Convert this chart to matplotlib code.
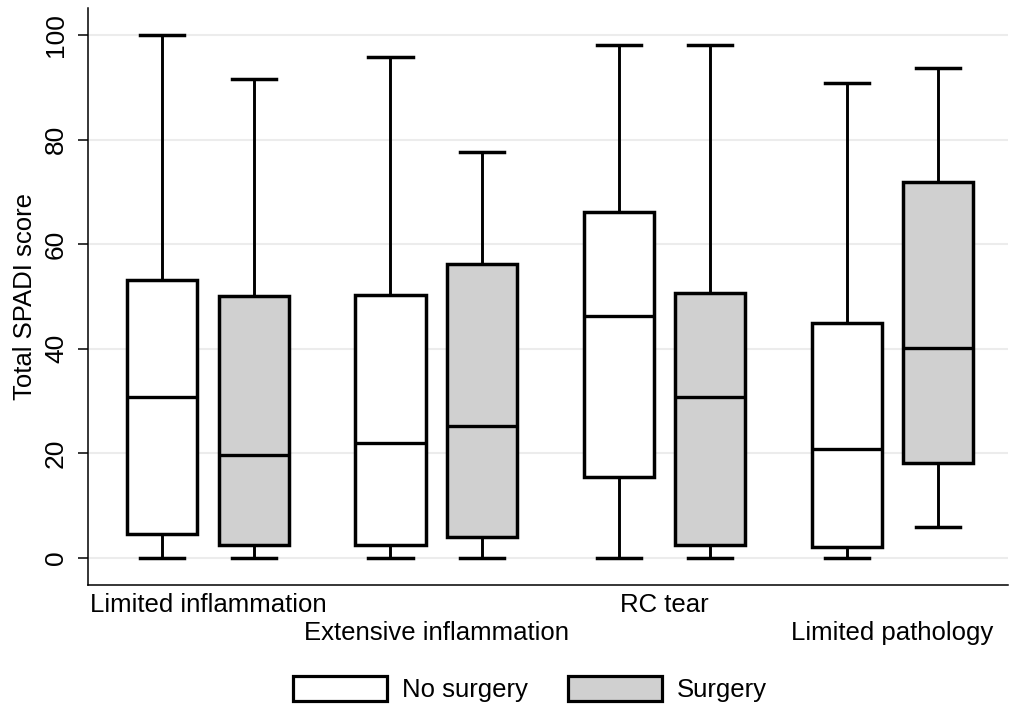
import numpy as np
import matplotlib
matplotlib.use("Agg")
import matplotlib.pyplot as plt
from matplotlib.patches import Patch

plt.rcParams['font.family'] = ['Liberation Sans', 'DejaVu Sans']

# Datos
grupos = ["Limited inflammation", "Extensive inflammation", "RC tear", "Limited pathology"]
series = ["No surgery", "Surgery"]

# [no surgery, surgery] por grupo
whislo = [[0, 0], [0, 0], [0, 0], [0, 5.8]]
q1 = [[4.5, 2.5], [2.5, 4.0], [15.5, 2.4], [2.0, 18.2]]
med = [[30.8, 19.6], [21.9, 25.2], [46.3, 30.8], [20.8, 40.1]]
q3 = [[53.2, 50.1], [50.3, 56.3], [66.2, 50.6], [45.0, 72.0]]
whishi = [[100, 91.7], [95.8, 77.6], [98.1, 98.1], [90.8, 93.7]]

colores = ["white", "#d0d0d0"]

fig = plt.figure(figsize=(10.12, 7.07), dpi=100)
ax = fig.add_axes([0.087, 0.1726, 0.909, 0.8161])

offset = 0.2
ancho = 0.307
for j in range(2):
    stats = []
    for i in range(len(grupos)):
        stats.append(dict(whislo=whislo[i][j], q1=q1[i][j], med=med[i][j],
                          q3=q3[i][j], whishi=whishi[i][j], fliers=[]))
    pos = np.arange(len(grupos)) + (offset if j == 1 else -offset)
    ax.bxp(stats, positions=pos, widths=ancho, capwidths=0.193,
           patch_artist=True, showfliers=False, manage_ticks=False,
           boxprops=dict(facecolor=colores[j], edgecolor="black", linewidth=2.5),
           medianprops=dict(color="black", linewidth=2.4),
           whiskerprops=dict(color="black", linewidth=2.1),
           capprops=dict(color="black", linewidth=2.5))

ax.set_xlim(-0.526, 3.507)
ax.set_ylim(-5.2, 105.2)
ax.set_yticks([0, 20, 40, 60, 80, 100])
ax.tick_params(axis='y', labelsize=19, length=7.5, width=1.1, labelrotation=90, pad=7)
for lab in ax.get_yticklabels():
    lab.set_va("center")
ax.set_ylabel("Total SPADI score", fontsize=18.5, labelpad=5)

# etiquetas alternadas en dos filas
etiquetas = [g if i % 2 == 0 else "\n" + g for i, g in enumerate(grupos)]
ax.set_xticks(np.arange(len(grupos)))
ax.set_xticklabels(etiquetas, fontsize=18.5)
ax.tick_params(axis='x', length=0, pad=6)

ax.grid(axis='y', color="#ececec", linewidth=1.5)
ax.set_axisbelow(True)
ax.spines['top'].set_visible(False)
ax.spines['right'].set_visible(False)
ax.spines['left'].set_linewidth(1.1)
ax.spines['bottom'].set_linewidth(1.1)

handles = [Patch(facecolor=colores[k], edgecolor="black", linewidth=2.3, label=series[k]) for k in range(2)]
fig.legend(handles=handles, loc="center", bbox_to_anchor=(0.524, 0.0255), ncol=2,
           frameon=False, fontsize=18.5, handlelength=3.66, handleheight=1.15,
           handletextpad=0.58, columnspacing=1.56)

fig.savefig("out.png", dpi=100)
